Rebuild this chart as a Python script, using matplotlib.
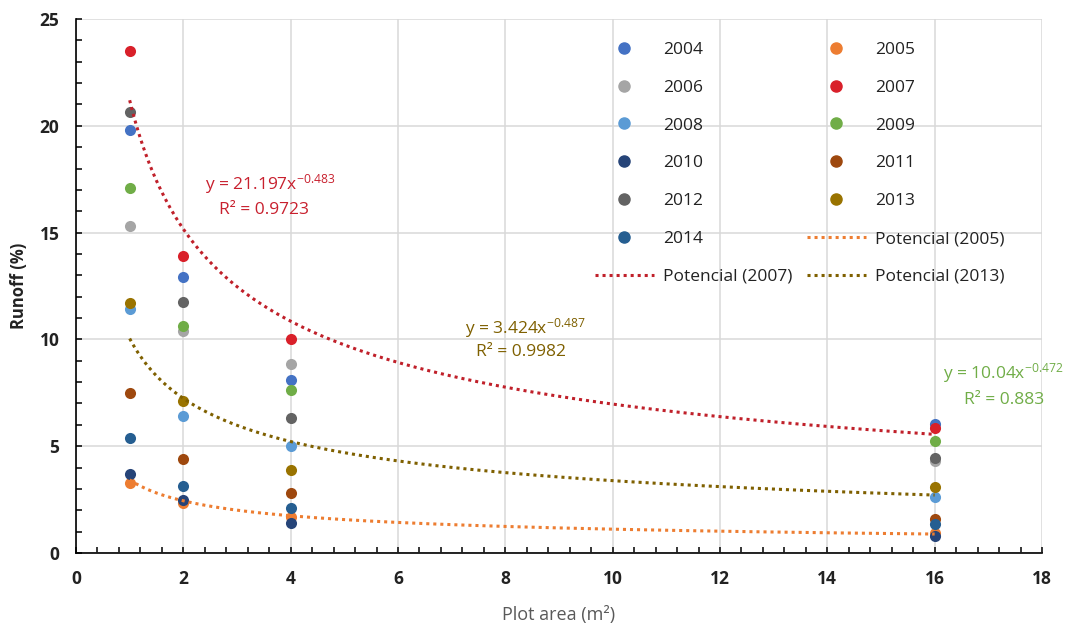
import numpy as np
import matplotlib
matplotlib.use("Agg")
import matplotlib.pyplot as plt
from matplotlib.ticker import MultipleLocator
from matplotlib.lines import Line2D

plt.rcParams['font.family'] = ['Open Sans', 'DejaVu Sans']
plt.rcParams['mathtext.fontset'] = 'custom'
plt.rcParams['mathtext.rm'] = 'Open Sans'

# Plot areas (m2)
areas = [1, 2, 4, 16]

# Runoff (%) per year
years = ['2004', '2005', '2006', '2007', '2008', '2009',
         '2010', '2011', '2012', '2013', '2014']
r2004 = [19.8, 12.9, 8.1, 6.05]
r2005 = [3.3, 2.35, 1.7, 0.95]
r2006 = [15.3, 10.4, 8.85, 4.3]
r2007 = [23.5, 13.9, 10.0, 5.85]
r2008 = [11.4, 6.4, 5.0, 2.6]
r2009 = [17.1, 10.65, 7.65, 5.25]
r2010 = [3.7, 2.5, 1.4, 0.8]
r2011 = [7.5, 4.4, 2.8, 1.6]
r2012 = [20.65, 11.75, 6.3, 4.45]
r2013 = [11.7, 7.1, 3.9, 3.1]
r2014 = [5.4, 3.15, 2.1, 1.35]
runoff = [r2004, r2005, r2006, r2007, r2008, r2009,
          r2010, r2011, r2012, r2013, r2014]

colors = ['#4472C4', '#ED7D31', '#A5A5A5', '#D9202A', '#5B9BD5', '#70AD47',
          '#264478', '#9E480E', '#636363', '#997300', '#255E91']

# Power trendlines y = a * x^b (coefficients from the chart labels)
trend_names = ['Potencial (2005)', 'Potencial (2007)', 'Potencial (2013)']
trend_a = [3.424, 21.197, 10.04]
trend_b = [-0.487, -0.483, -0.472]
trend_colors = ['#ED7D31', '#C0202A', '#7F6000']

fig = plt.figure(figsize=(10.66, 6.26), dpi=100)
ax = fig.add_axes([76/1066, 73/626, 966/1066, 534/626])

handles = {}
for name, vals, c in zip(years, runoff, colors):
    ax.scatter(areas, vals, s=64, color=c, zorder=3, linewidths=0)
    handles[name] = Line2D([], [], marker='o', linestyle='none', markersize=8,
                           markerfacecolor=c, markeredgecolor=c)

xs = np.linspace(1, 16, 300)
for name, a, b, c in zip(trend_names, trend_a, trend_b, trend_colors):
    ax.plot(xs, a * xs ** b, color=c, lw=2.2, linestyle=(0, (1, 1.3)),
            dash_capstyle='butt', zorder=4)
    handles[name] = Line2D([], [], color=c, lw=2.2, linestyle=(0, (1, 1.3)),
                           dash_capstyle='butt')

ax.set_xlim(0, 18)
ax.set_ylim(0, 25)
ax.xaxis.set_major_locator(MultipleLocator(2))
ax.xaxis.set_minor_locator(MultipleLocator(0.4))
ax.yaxis.set_major_locator(MultipleLocator(5))
ax.yaxis.set_minor_locator(MultipleLocator(1))
ax.grid(True, which='major', color='#D9D9D9', lw=1.1, zorder=0)
ax.set_axisbelow(True)
for s in ['top', 'right']:
    ax.spines[s].set_visible(False)
for s in ['left', 'bottom']:
    ax.spines[s].set_linewidth(1.2)
    ax.spines[s].set_color('black')
ax.tick_params(which='both', direction='in', length=4, width=1.1, color='black')
ax.tick_params(axis='x', pad=12)
ax.tick_params(axis='y', pad=12)
for lab in ax.get_xticklabels() + ax.get_yticklabels():
    lab.set_fontweight('bold')
    lab.set_fontsize(12.5)
    lab.set_color('#222222')

ax.set_xlabel('Plot area (m²)', fontsize=13, color='#595959', labelpad=13)
ax.set_ylabel('Runoff (%)', fontsize=12, fontweight='bold', color='#222222', labelpad=8)

# Trendline equations
ax.text(3.61, 17.28, 'y = 21.197x$\\mathregular{^{-0.483}}$', color='#C8202E',
        fontsize=12.5, ha='center', va='center')
ax.text(3.50, 16.06, 'R² = 0.9723', color='#C8202E', fontsize=12.5,
        ha='center', va='center')
ax.text(8.37, 10.53, 'y = 3.424x$\\mathregular{^{-0.487}}$', color='#7F6000',
        fontsize=12.5, ha='center', va='center')
ax.text(8.30, 9.41, 'R² = 0.9982', color='#7F6000', fontsize=12.5,
        ha='center', va='center')
ax.text(17.27, 8.43, 'y = 10.04x$\\mathregular{^{-0.472}}$', color='#70AD47',
        fontsize=12.5, ha='center', va='center')
ax.text(17.29, 7.16, 'R² = 0.883', color='#70AD47', fontsize=12.5,
        ha='center', va='center')

# Legend: row order as in Excel -> column-major for matplotlib
col1 = ['2004', '2006', '2008', '2010', '2012', '2014', 'Potencial (2007)']
col2 = ['2005', '2007', '2009', '2011', '2013', 'Potencial (2005)', 'Potencial (2013)']
order = col1 + col2
leg = fig.legend([handles[k] for k in order], order, loc='upper left',
                 bbox_to_anchor=(586/1066, 1 - 33/626), ncol=2, frameon=False,
                 fontsize=12.5, handlelength=3.4, handletextpad=0.55,
                 columnspacing=0.8, labelspacing=1.25, borderpad=0)
for t in leg.get_texts():
    t.set_color('#222222')

fig.savefig('out.png', dpi=100)
